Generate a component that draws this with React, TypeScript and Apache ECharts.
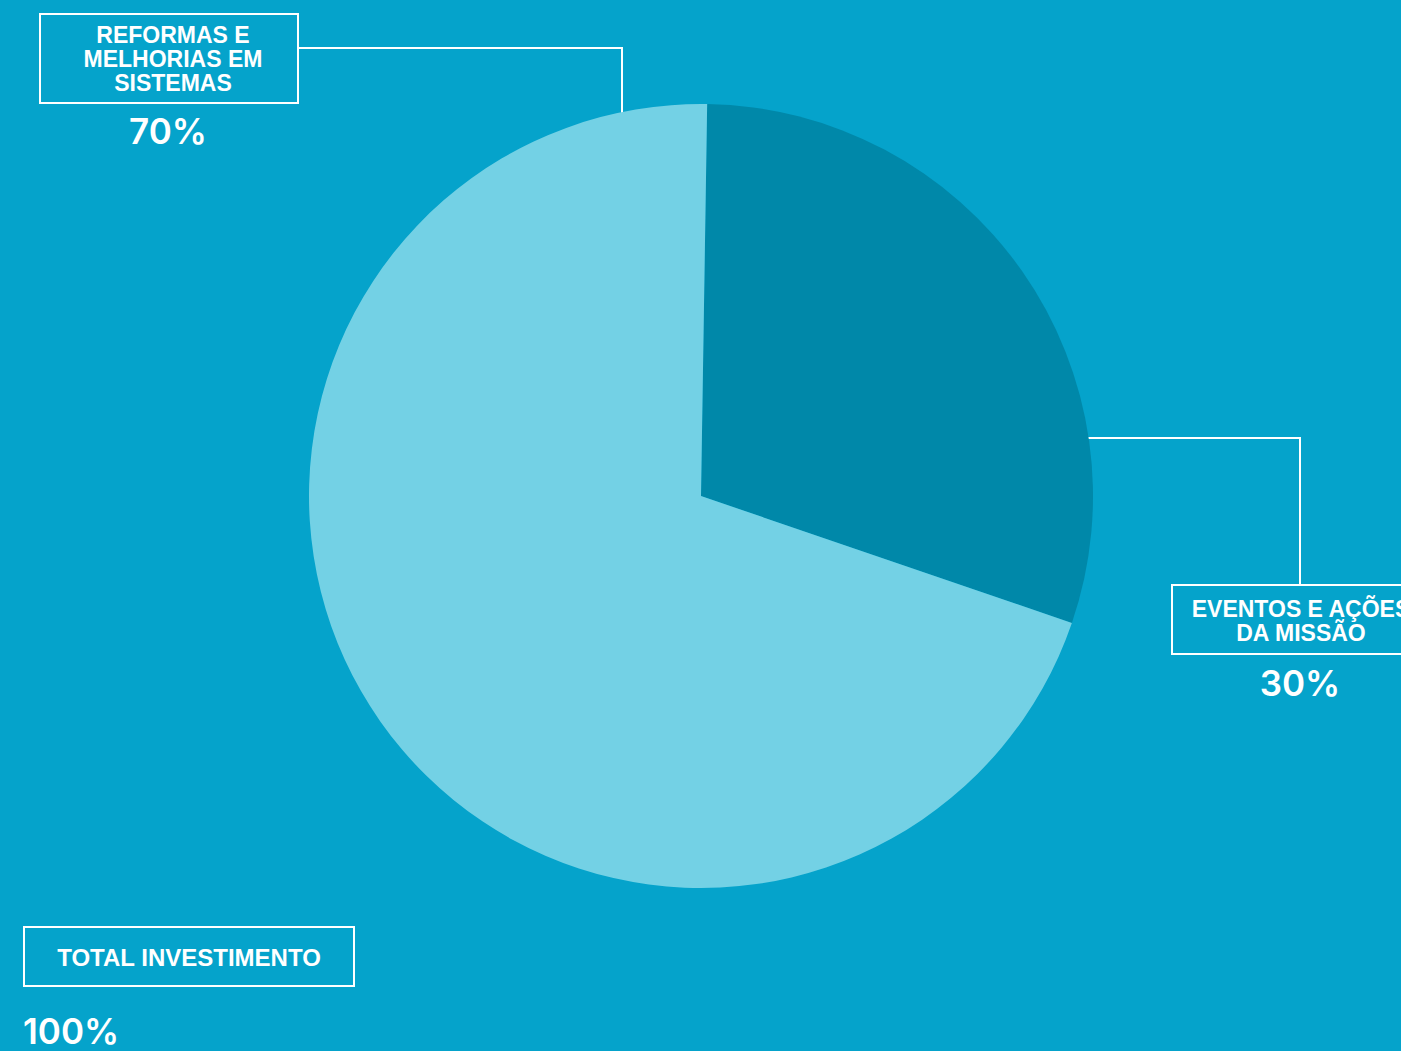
import React, { useEffect, useRef } from "react";
import * as echarts from "echarts";

const categories = ["EVENTOS E AÇÕES\nDA MISSÃO", "REFORMAS E\nMELHORIAS EM\nSISTEMAS"];
const values = [30, 70];
const percentLabels = ["30%", "70%"];
const totalLabel = "TOTAL INVESTIMENTO";
const totalValue = "100%";
const sliceColors = ["#0088A9", "#73D1E5"];

const BG = "#05A3CB";
const LABEL_FONT = "'Liberation Sans', Arial, sans-serif";
const PCT_FONT = "Inter, 'Liberation Sans', sans-serif";

export default function App() {
  const ref = useRef<HTMLDivElement>(null);

  useEffect(() => {
    if (!ref.current) return;
    const chart = echarts.init(ref.current, undefined, { renderer: "svg" });

    const white = "#FFFFFF";
    const boxStyle = { fill: "transparent", stroke: white, lineWidth: 2 };
    const lineStyle = { stroke: white, lineWidth: 2, fill: null };

    const labelText = (text: string, x: number, y: number, size = 23) => ({
      type: "text",
      x,
      y,
      style: {
        text,
        fill: white,
        font: `bold ${size}px ${LABEL_FONT}`,
        align: "center",
        verticalAlign: "middle",
        lineHeight: 24,
      },
      silent: true,
    });

    const pctText = (text: string, x: number, y: number, align = "center") => ({
      type: "text",
      x,
      y,
      style: {
        text,
        fill: white,
        font: `600 35px ${PCT_FONT}`,
        align,
        verticalAlign: "middle",
      },
      silent: true,
    });

    const option = {
      animation: false,
      backgroundColor: BG,
      series: [
        {
          type: "pie",
          center: [701, 496],
          radius: [0, 392],
          startAngle: 89.1,
          clockwise: true,
          label: { show: false },
          labelLine: { show: false },
          emphasis: { disabled: true },
          itemStyle: { borderWidth: 0 },
          data: categories.map((name, i) => ({
            name,
            value: values[i],
            itemStyle: { color: sliceColors[i] },
          })),
        },
      ],
      graphic: [
        { type: "polyline", shape: { points: [[298, 48], [622, 48], [622, 113]] }, style: lineStyle, silent: true },
        { type: "rect", shape: { x: 40, y: 14, width: 258, height: 89 }, style: boxStyle, silent: true },
        labelText(categories[1], 173, 59),
        pctText(percentLabels[1], 168, 131),
        { type: "polyline", shape: { points: [[1088, 438], [1300, 438], [1300, 585]] }, style: lineStyle, silent: true },
        { type: "rect", shape: { x: 1172, y: 585, width: 260, height: 69 }, style: boxStyle, silent: true },
        labelText(categories[0], 1301, 621),
        pctText(percentLabels[0], 1300, 683),
        { type: "rect", shape: { x: 24, y: 927, width: 330, height: 59 }, style: boxStyle, silent: true },
        labelText(totalLabel, 189, 957, 24),
        pctText(totalValue, 23, 1031, "left"),
      ],
    };

    chart.setOption(option as any);
    return () => chart.dispose();
  }, []);

  return (
    <div
      ref={ref}
      style={{ position: "absolute", left: 0, top: 0, width: 1401, height: 1051 }}
    />
  );
}
